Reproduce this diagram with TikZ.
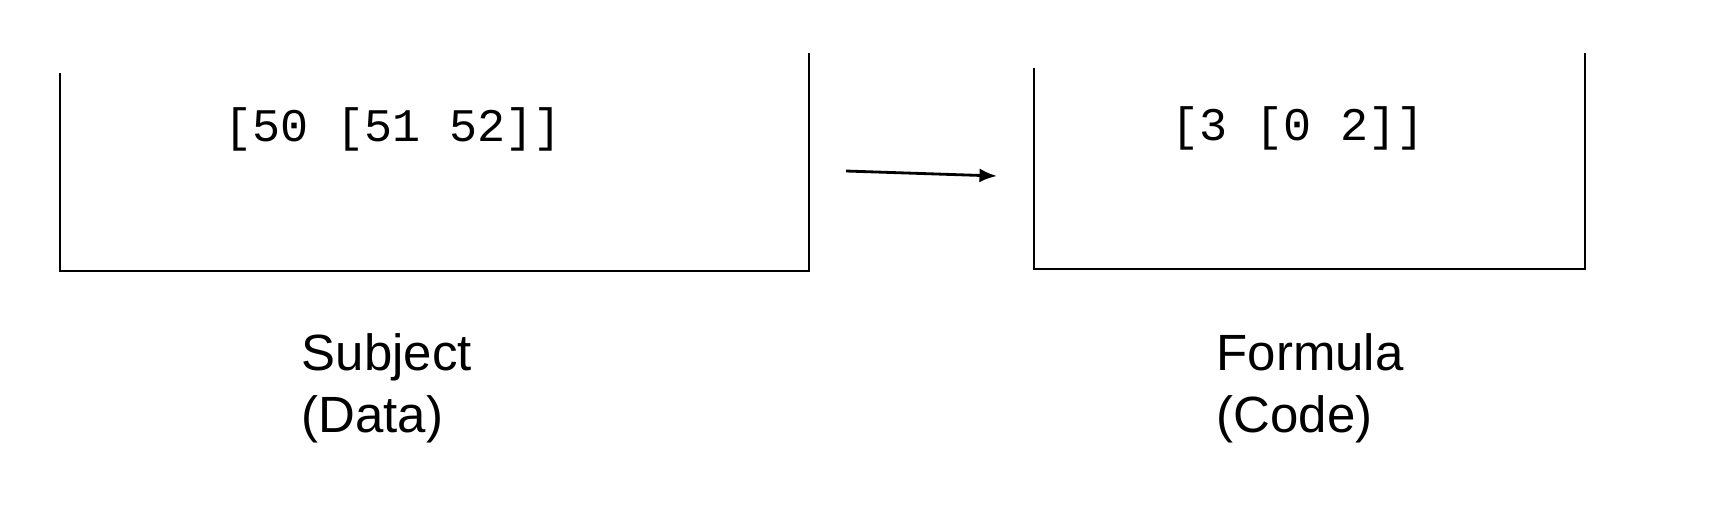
\documentclass[tikz,border=0pt]{standalone}
\usepackage{fontspec}
\setmainfont{Liberation Sans}
\newfontfamily\codefont{Liberation Mono}
\usepackage{tikz}
\usetikzlibrary{arrows.meta}

\tikzset{
    binline/.style={line width=0.75pt},
    codetext/.style={font=\codefont\fontsize{13.3}{16}\selectfont, inner sep=0pt},
    captiontext/.style={font=\fontsize{14.5}{17.6}\selectfont, align=left, anchor=north west, inner sep=0pt}
}

\begin{document}
\begin{tikzpicture}[>={Latex[length=5pt,width=4pt]}]
    \useasboundingbox (0,0) rectangle (17.1,5.1);
    % subject box
    \draw[binline] (0.60,4.37) -- (0.60,2.39) -- (8.09,2.39) -- (8.09,4.57);
    \node[codetext] (subj) at (3.93,3.81) {[50 [51 52]]};
    % formula box
    \draw[binline] (10.34,4.42) -- (10.34,2.41) -- (15.85,2.41) -- (15.85,4.57);
    \node[codetext] (form) at (12.98,3.82) {[3 [0 2]]};
    % arrow between the boxes
    \coordinate (from) at (8.46,3.39);
    \coordinate (to) at (9.97,3.34);
    \draw[->, line width=0.8pt] (from) -- (to);
    % captions
    \node[captiontext] (subjcap) at (3.01,1.77) {Subject\\(Data)};
    \node[captiontext] (formcap) at (12.16,1.77) {Formula\\(Code)};
\end{tikzpicture}
\end{document}
